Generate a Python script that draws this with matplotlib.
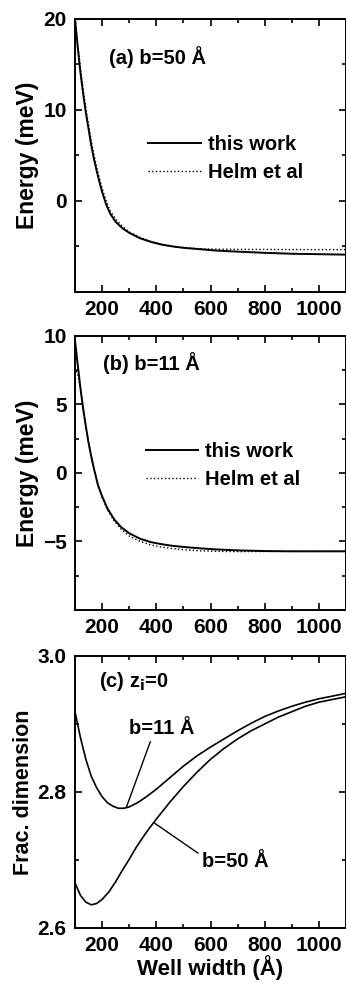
import matplotlib.pyplot as plt
from matplotlib.ticker import MultipleLocator

plt.rcParams['font.family'] = ['Liberation Sans', 'DejaVu Sans']
plt.rcParams['font.weight'] = 'bold'
plt.rcParams['mathtext.default'] = 'regular'

# (a) b=50 A
wa = [100, 110, 120, 130, 140, 150, 160, 170, 180, 190, 200, 215, 230, 250, 275, 300,
      340, 380, 420, 460, 500, 560, 620, 700, 800, 900, 1000, 1100]
ea_this = [20.0, 16.9, 14.1, 11.8, 9.7, 7.9, 6.1, 4.6, 3.3, 2.1, 1.0, -0.4, -1.4, -2.3,
           -3.0, -3.5, -4.1, -4.5, -4.8, -5.0, -5.15, -5.3, -5.45, -5.57, -5.7, -5.8,
           -5.85, -5.9]
ea_helm = [20.0, 17.3, 14.6, 12.3, 10.2, 8.4, 6.6, 5.1, 3.7, 2.5, 1.4, 0.0, -1.1, -2.0,
           -2.8, -3.4, -4.0, -4.45, -4.75, -4.98, -5.12, -5.25, -5.3, -5.32, -5.33, -5.34,
           -5.35, -5.35]

# (b) b=11 A
wb = [100, 110, 120, 130, 140, 150, 160, 170, 185, 200, 220, 245, 270, 300, 340, 380,
      420, 460, 500, 560, 620, 700, 800, 900, 1000, 1100]
eb_this = [9.7, 7.9, 6.2, 4.7, 3.4, 2.2, 1.2, 0.3, -0.9, -1.7, -2.6, -3.4, -3.95, -4.4,
           -4.8, -5.05, -5.2, -5.32, -5.4, -5.5, -5.58, -5.65, -5.7, -5.72, -5.72, -5.72]
eb_helm = [7.7, 7.2, 6.2, 4.7, 3.4, 2.2, 1.2, 0.25, -0.95, -1.8, -2.7, -3.5, -4.1, -4.6,
           -5.0, -5.25, -5.42, -5.52, -5.6, -5.68, -5.72, -5.74, -5.73, -5.72, -5.72, -5.72]

# (c) fractional dimension, z_i=0
wc11 = [100, 120, 140, 160, 180, 200, 220, 240, 260, 280, 300, 330, 360, 400, 450, 500,
        550, 600, 650, 700, 750, 800, 850, 900, 950, 1000, 1050, 1100]
d11 = [2.918, 2.880, 2.848, 2.823, 2.806, 2.793, 2.784, 2.779, 2.776, 2.776, 2.778,
       2.784, 2.792, 2.804, 2.821, 2.838, 2.853, 2.866, 2.878, 2.890, 2.901, 2.911,
       2.919, 2.926, 2.932, 2.937, 2.941, 2.945]
wc50 = [100, 120, 140, 160, 180, 200, 225, 250, 275, 300, 325, 350, 375, 400, 450, 500,
        550, 600, 650, 700, 750, 800, 850, 900, 950, 1000, 1050, 1100]
d50 = [2.666, 2.648, 2.638, 2.634, 2.636, 2.642, 2.653, 2.668, 2.685, 2.701, 2.718,
       2.733, 2.747, 2.760, 2.785, 2.808, 2.829, 2.848, 2.864, 2.878, 2.890, 2.900,
       2.910, 2.918, 2.926, 2.932, 2.936, 2.940]

fs = 15
fig = plt.figure(figsize=(3.46, 9.83), dpi=100)
left, width = 0.2168, 0.7832
ax1 = fig.add_axes([left, 0.703, width, 0.2777])
ax2 = fig.add_axes([left, 0.3795, width, 0.2787])
ax3 = fig.add_axes([left, 0.056, width, 0.2767])

for ax in (ax1, ax2, ax3):
    ax.set_xlim(100, 1100)
    ax.set_xticks([200, 400, 600, 800, 1000])
    ax.xaxis.set_minor_locator(MultipleLocator(100))
    ax.tick_params(which='both', direction='in', top=True, right=True,
                   labelsize=fs, width=1.2)
    ax.tick_params(which='major', length=5, pad=6)
    ax.tick_params(which='minor', length=3)
    for s in ax.spines.values():
        s.set_linewidth(1.4)

ax1.plot(wa, ea_this, color='black', lw=1.4, label='this work')
ax1.plot(wa, ea_helm, color='black', lw=1.0, ls=':', label='Helm et al')
ax1.set_ylim(-10, 20)
ax1.set_yticks([0, 10, 20])
ax1.yaxis.set_minor_locator(MultipleLocator(5))
ax1.set_ylabel('Energy (meV)', fontsize=16.5, fontweight='bold', labelpad=3)
ax1.text(226, 15.8, '(a) b=50 Å', fontsize=14.5, fontweight='bold', va='center')
ax1.legend(loc='upper left', bbox_to_anchor=(0.203, 0.64), frameon=False,
           fontsize=14.5, handlelength=2.6, handletextpad=0.35, labelspacing=0.45)

ax2.plot(wb, eb_this, color='black', lw=1.4, label='this work')
ax2.plot(wb, eb_helm, color='black', lw=1.0, ls=':', label='Helm et al')
ax2.set_ylim(-10, 10)
ax2.set_yticks([-5, 0, 5, 10])
ax2.yaxis.set_minor_locator(MultipleLocator(2.5))
ax2.set_ylabel('Energy (meV)', fontsize=16.5, fontweight='bold', labelpad=3)
ax2.text(205, 8.0, '(b) b=11 Å', fontsize=14.5, fontweight='bold', va='center')
ax2.legend(loc='upper left', bbox_to_anchor=(0.195, 0.68), frameon=False,
           fontsize=14.5, handlelength=2.6, handletextpad=0.35, labelspacing=0.45)

ax3.plot(wc11, d11, color='black', lw=1.2)
ax3.plot(wc50, d50, color='black', lw=1.2)
ax3.set_ylim(2.6, 3.0)
ax3.set_yticks([2.6, 2.8, 3.0])
ax3.yaxis.set_minor_locator(MultipleLocator(0.1))
ax3.set_ylabel('Frac. dimension', fontsize=15.5, fontweight='bold', labelpad=3)
ax3.set_xlabel('Well width (Å)', fontsize=16, fontweight='bold', labelpad=0)
ax3.text(189, 2.962, '(c) z$_\\mathbf{i}$=0', fontsize=14.5, fontweight='bold', va='center')

# labels with leader lines
ax3.text(300, 2.894, 'b=11 Å', fontsize=14.5, fontweight='bold', va='center')
ax3.annotate('', xy=(290, 2.778), xytext=(378, 2.874),
             arrowprops=dict(arrowstyle='-', color='black', lw=1.0, shrinkA=0, shrinkB=0))
ax3.text(570, 2.697, 'b=50 Å', fontsize=14.5, fontweight='bold', va='center')
ax3.annotate('', xy=(394, 2.754), xytext=(554, 2.710),
             arrowprops=dict(arrowstyle='-', color='black', lw=1.0, shrinkA=0, shrinkB=0))

fig.savefig('out.png', dpi=100)
